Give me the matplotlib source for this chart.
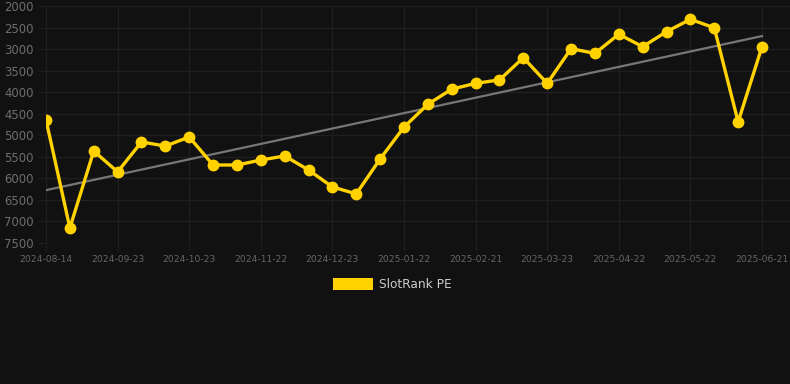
import matplotlib
matplotlib.use("Agg")
import matplotlib.pyplot as plt
from matplotlib.patches import Rectangle
import numpy as np

dates = ["2024-08-14", "2024-08-27", "2024-09-10", "2024-09-23", "2024-10-03", "2024-10-13",
         "2024-10-23", "2024-11-02", "2024-11-12", "2024-11-22", "2024-12-02", "2024-12-12",
         "2024-12-23", "2025-01-02", "2025-01-12", "2025-01-22", "2025-02-01", "2025-02-11",
         "2025-02-21", "2025-03-03", "2025-03-13", "2025-03-23", "2025-04-02", "2025-04-12",
         "2025-04-22", "2025-05-02", "2025-05-12", "2025-05-22", "2025-06-01", "2025-06-11",
         "2025-06-21"]
values = [4640, 7150, 5365, 5850, 5155, 5250, 5040, 5690, 5690, 5575, 5480, 5805,
          6200, 6360, 5550, 4810, 4280, 3930, 3795, 3715, 3200, 3795, 2990, 3100,
          2655, 2945, 2595, 2310, 2505, 4690, 2945]
tick_labels = ["2024-08-14", "2024-09-23", "2024-10-23", "2024-11-22", "2024-12-23",
               "2025-01-22", "2025-02-21", "2025-03-23", "2025-04-22", "2025-05-22",
               "2025-06-21"]
y_ticks = [2000, 2500, 3000, 3500, 4000, 4500, 5000, 5500, 6000, 6500, 7000, 7500]
series_name = "SlotRank PE"

BG = "#111111"
GRID = "#1f1f1f"
YELLOW = "#ffd200"

W, H = 790, 384
fig = plt.figure(figsize=(W / 100, H / 100), dpi=100, facecolor=BG)
ax = fig.add_axes([46 / W, 1 - 243 / H, (790 - 46) / W, (243 - 6) / H], facecolor=BG)

x = np.arange(len(values))
vals = np.array(values, dtype=float)

# trend line (linear fit)
coef = np.polyfit(x, vals, 1)
ax.plot(x, np.polyval(coef, x), color="#777777", lw=1.6, zorder=2)

ax.plot(x, vals, color=YELLOW, lw=2.4, marker="o", ms=7.5, zorder=3, solid_joinstyle="round")

ax.set_ylim(7500, 2000)
ax.set_yticks(y_ticks)
ax.set_yticklabels([str(v) for v in y_ticks])
px_per_unit = (762 - 46) / 30
ax.set_xlim(0, (790 - 46) / px_per_unit)
tick_pos = [dates.index(t) for t in tick_labels]
ax.set_xticks(tick_pos)
ax.set_xticklabels(tick_labels)

ax.grid(True, color=GRID, lw=1)
ax.set_axisbelow(True)
for s in ax.spines.values():
    s.set_visible(False)
ax.tick_params(axis="y", colors=GRID, length=6, labelcolor="#6e6e6e", labelsize=8.4, pad=3)
ax.tick_params(axis="x", colors=GRID, length=6, labelcolor="#666666", labelsize=6.6, pad=2.5)

# legend
fig.add_artist(Rectangle((333 / W, 1 - 290 / H), 40 / W, 12 / H, transform=fig.transFigure,
                         facecolor=YELLOW, edgecolor="none"))
fig.text(379 / W, 1 - 284.5 / H, series_name, color="#cccccc", fontsize=8.7, va="center", ha="left")

fig.savefig("out.png", dpi=100, facecolor=BG)
